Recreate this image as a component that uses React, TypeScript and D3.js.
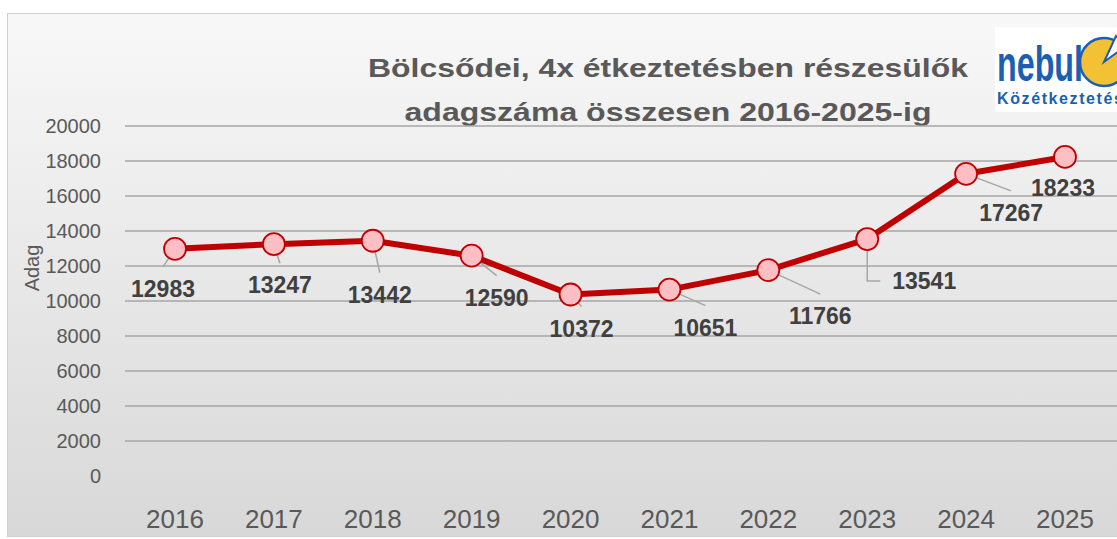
import React from "react";
import * as d3 from "d3";

const years = ["2016", "2017", "2018", "2019", "2020", "2021", "2022", "2023", "2024", "2025"];
const portions = [12983, 13247, 13442, 12590, 10372, 10651, 11766, 13541, 17267, 18233];
const yTicks = [0, 2000, 4000, 6000, 8000, 10000, 12000, 14000, 16000, 18000, 20000];
const titleLines = ["Bölcsődei, 4x étkeztetésben részesülők", "adagszáma összesen 2016-2025-ig"];
const yTitle = "Adag";

// label offsets (layout, px) relative to the point: [dx, dy] of label centre
const labelOffsets: [number, number][] = [
  [-12, 40], [6, 41], [7, 54], [25, 42], [11, 34], [36, 38], [52, 46], [57, 42], [45, 39], [-2, 31],
];

const W = 1117;
const H = 539;

export default function App() {
  const x = d3.scalePoint<string>().domain(years).range([175, 1065]);
  const y = d3.scaleLinear().domain([0, 20000]).range([476, 126]);
  const line = d3
    .line<number>()
    .x((_, i) => x(years[i]) as number)
    .y((d) => y(d));

  const font = "'Liberation Sans', Arial, sans-serif";

  return (
    <svg
      width={W}
      height={H}
      style={{ position: "absolute", left: 0, top: 0, display: "block" }}
    >
      <defs>
        <linearGradient id="bg" x1="0" y1="0" x2="0" y2="1">
          <stop offset="0" stopColor="#f8f8f8" />
          <stop offset="1" stopColor="#d8d8d8" />
        </linearGradient>
      </defs>
      <rect x={0} y={0} width={W} height={H} fill="#ffffff" />
      <rect x={7.5} y={13.5} width={W} height={523} fill="url(#bg)" stroke="#d0d0d0" strokeWidth={1} />

      {/* title */}
      {titleLines.map((t, i) => (
        <text
          key={i}
          x={668}
          y={77 + i * 44}
          textAnchor="middle"
          fontFamily={font}
          fontWeight="bold"
          fontSize={26}
          fill="#595959"
          textLength={i === 0 ? 600 : 527}
          lengthAdjust="spacingAndGlyphs"
        >
          {t}
        </text>
      ))}

      {/* logo */}
      <g>
        <rect x={995} y={27} width={130} height={85} fill="#ffffff" />
        <text
          x={997}
          y={81}
          fontFamily="'Liberation Sans Narrow', 'Liberation Sans', Arial, sans-serif"
          fontWeight="bold"
          fontSize={50}
          fill="#1a5fb4"
          textLength={86}
          lengthAdjust="spacingAndGlyphs"
        >
          nebul
        </text>
        <circle cx={1104} cy={62} r={24} fill="#f2c234" stroke="#1a5fb4" strokeWidth={2.5} />
        <path d="M1104,62 L1116,36 L1126,46 Z" fill="#ffffff" stroke="#1a5fb4" strokeWidth={2} />
        <text
          x={997}
          y={104}
          fontFamily={font}
          fontWeight="bold"
          fontSize={16}
          fill="#1a5fb4"
          letterSpacing={1.6}
        >
          Közétkeztetés
        </text>
      </g>

      {/* grid */}
      {yTicks.filter((t) => t > 0).map((t) => (
        <line key={t} x1={125} x2={W} y1={y(t)} y2={y(t)} stroke="#a6a6a6" strokeWidth={1.5} />
      ))}

      {/* y tick labels */}
      {yTicks.map((t) => (
        <text
          key={t}
          x={101}
          y={y(t)}
          dy="0.35em"
          textAnchor="end"
          fontFamily={font}
          fontSize={20}
          fill="#595959"
        >
          {t}
        </text>
      ))}

      {/* y title */}
      <text
        transform={`translate(39,268) rotate(-90)`}
        textAnchor="middle"
        fontFamily={font}
        fontSize={20}
        fill="#595959"
      >
        {yTitle}
      </text>

      {/* x labels */}
      {years.map((yr) => (
        <text
          key={yr}
          x={x(yr)}
          y={528}
          textAnchor="middle"
          fontFamily={font}
          fontSize={26}
          fill="#595959"
        >
          {yr}
        </text>
      ))}

      {/* leader lines */}
      {portions.map((v, i) => {
        const px = x(years[i]) as number;
        const py = y(v);
        const [dx, dy] = labelOffsets[i];
        if (i === 9) return null;
        if (i === 7) {
          return (
            <polyline
              key={i}
              points={`${px},${py} ${px},${py + dy} ${px + 13},${py + dy}`}
              fill="none"
              stroke="#a6a6a6"
              strokeWidth={1.5}
            />
          );
        }
        const ex = px + dx;
        const ey = py + dy - 22;
        return (
          <line key={i} x1={px} y1={py} x2={ex} y2={ey} stroke="#a6a6a6" strokeWidth={1.5} />
        );
      })}

      {/* series line */}
      <path d={line(portions) || ""} fill="none" stroke="#c00000" strokeWidth={6} strokeLinejoin="round" />

      {/* markers */}
      {portions.map((v, i) => (
        <circle
          key={i}
          cx={x(years[i])}
          cy={y(v)}
          r={11}
          fill="#ffbdc4"
          stroke="#c00000"
          strokeWidth={1.8}
        />
      ))}

      {/* data labels */}
      {portions.map((v, i) => {
        const px = x(years[i]) as number;
        const py = y(v);
        const [dx, dy] = labelOffsets[i];
        const cx = i === 7 ? px + 57 : px + dx;
        return (
          <text
            key={i}
            x={cx}
            y={py + dy}
            dy="0.35em"
            textAnchor="middle"
            fontFamily={font}
            fontWeight="bold"
            fontSize={23}
            fill="#404040"
          >
            {v}
          </text>
        );
      })}
    </svg>
  );
}
